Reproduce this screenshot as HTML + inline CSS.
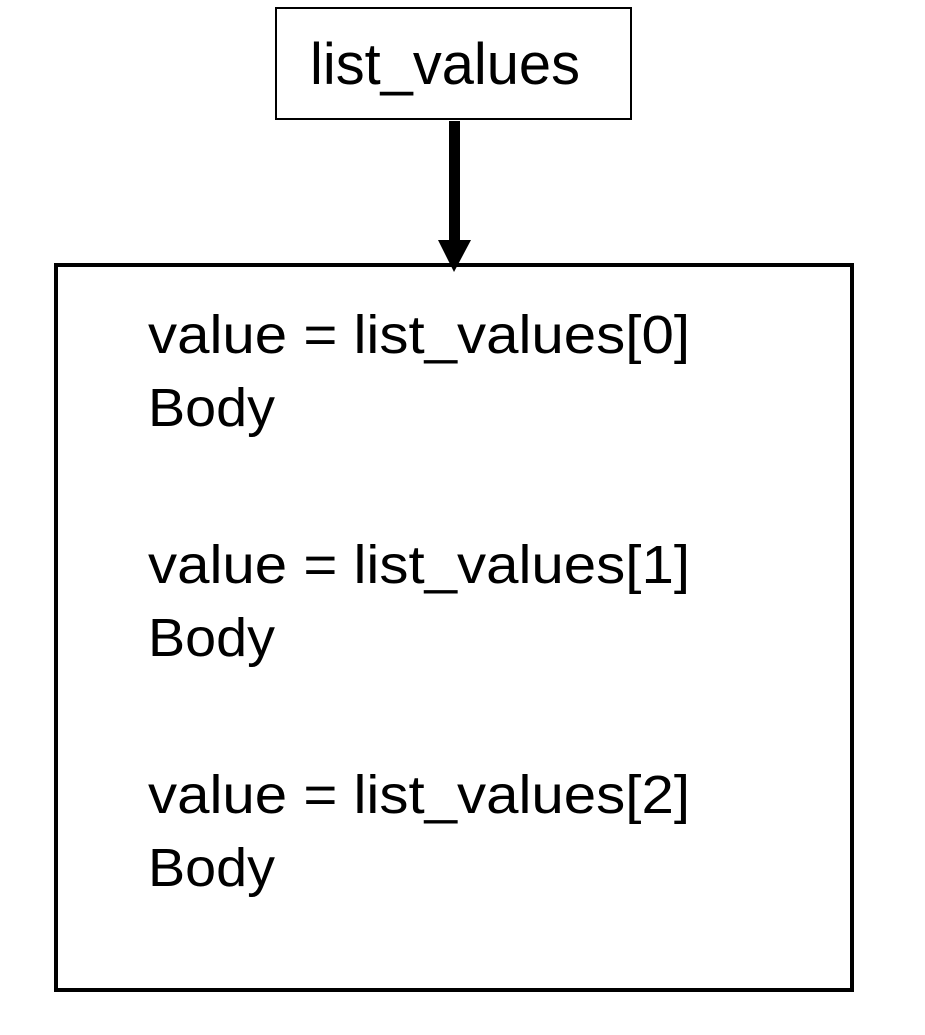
<!DOCTYPE html>
<html><head><meta charset="utf-8"><style>html,body{margin:0;padding:0;background:#fff}</style></head>
<body>
<svg width="925" height="1035" xmlns="http://www.w3.org/2000/svg" style="display:block">
<rect x="276" y="8" width="355" height="111" fill="#fff" stroke="#000" stroke-width="2"/>
<text x="310" y="84" font-family="Liberation Sans, sans-serif" font-size="58" textLength="270" lengthAdjust="spacingAndGlyphs">list_values</text>
<rect x="449" y="121" width="11" height="122" fill="#000"/>
<polygon points="438,240 471,240 454,272" fill="#000"/>
<rect x="56" y="265" width="796" height="725" fill="none" stroke="#000" stroke-width="4"/>
<g font-family="Liberation Sans, sans-serif" font-size="54">
<text x="148" y="353" textLength="542" lengthAdjust="spacingAndGlyphs">value = list_values[0]</text>
<text x="148" y="426" textLength="127" lengthAdjust="spacingAndGlyphs">Body</text>
<text x="148" y="583" textLength="542" lengthAdjust="spacingAndGlyphs">value = list_values[1]</text>
<text x="148" y="656" textLength="127" lengthAdjust="spacingAndGlyphs">Body</text>
<text x="148" y="813" textLength="542" lengthAdjust="spacingAndGlyphs">value = list_values[2]</text>
<text x="148" y="886" textLength="127" lengthAdjust="spacingAndGlyphs">Body</text>
</g>
</svg>
</body></html>
